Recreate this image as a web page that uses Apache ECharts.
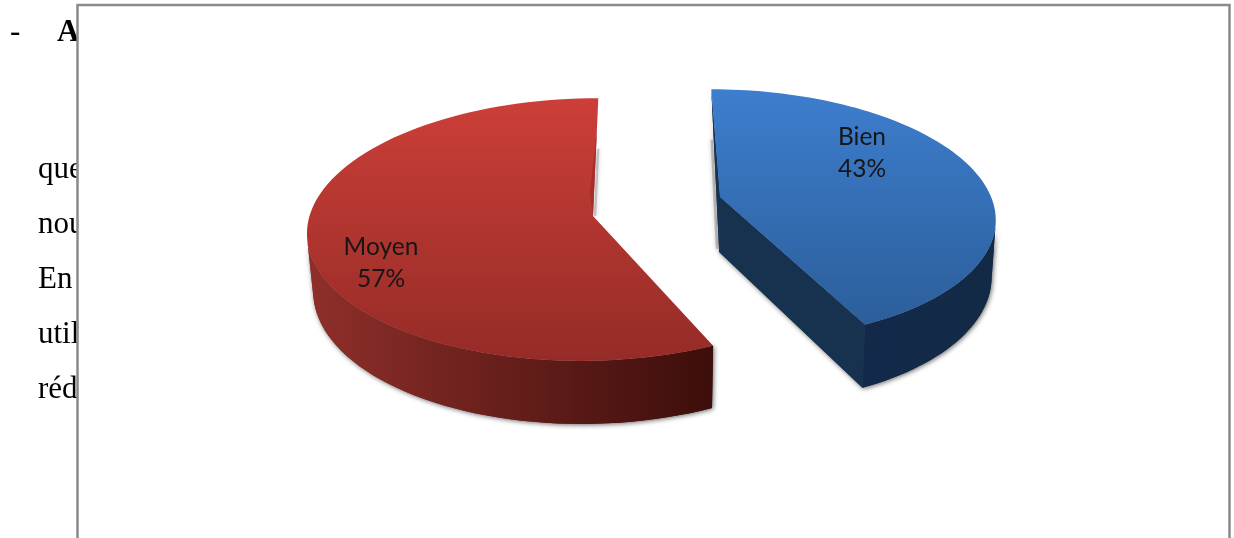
<!DOCTYPE html>
<html><head><meta charset="utf-8">
<style>html,body{margin:0;padding:0;background:#fff;overflow:hidden}#c{width:1234px;height:538px}</style>
<script src="https://cdn.jsdelivr.net/npm/echarts@6/dist/echarts.min.js"></script>
</head><body><div id="c"></div>
<script>
const categories = ['Bien', 'Moyen'];
const values = [43, 57];
const pageLines = ['que', 'nou', 'En', 'util', 'réd'];

// look of each slice (3D projection and colours)
const looks = {
  Bien:  {cx:720, cy:197, a:269.5, b:123, k:0.142, shear:-1.6, depth:55, low:0.988, rimTo:100,
          top:['#3d7ece','#2c5e9a'], rim:['#14294a','#122a46'], wall:'#17324f',
          label:[862,137]},
  Moyen: {cx:593, cy:216, a:280.5, b:130, k:0.103, shear:3, depth:56.5, low:0.982, rimTo:260,
          top:['#cc3f38','#952b27'], rim:['#8f2f2a','#3c0e0b'], wall:'#a52e2a',
          label:[381,247]}
};
const vx = 650;
const sum = values.reduce((p, v) => p + v, 0);
const grad = (x2, y2, c) => new echarts.graphic.LinearGradient(0, 0, x2, y2, [{offset:0,color:c[0]},{offset:1,color:c[1]}]);
const lerp = (p, q, t) => [p[0] + (q[0] - p[0]) * t, p[1] + (q[1] - p[1]) * t];

function proj(L, deg, r, low) {
  const t = deg * Math.PI / 180, s = 1 / (1 + L.k * r * Math.cos(t));
  let x = vx + (L.cx - vx + L.a * r * Math.sin(t)) * s + L.shear * r * (Math.cos(t) - 1);
  let y = L.cy - L.b * r * Math.cos(t) * s;
  if (low) { x = vx + (x - vx) * L.low; y += L.depth * s; }
  return [x, y];
}

function renderItem(params, api) {
  const i = params.dataIndex, L = looks[categories[i]];
  let startV = 0;
  for (let j = 0; j < i; j++) startV += values[j];
  const v = api.value(0);
  const a0 = startV / sum * 360, a1 = (startV + v) / sum * 360;
  const isBlue = a0 === 0;
  const arcTop = [], arcLowVis = [], arcTopVis = [];
  const step = (a1 - a0) / 90;
  const from = isBlue ? L.rimTo : a0, to = isBlue ? a1 : L.rimTo;
  for (let n = 0; n <= 90; n++) {
    const d = a0 + n * step;
    arcTop.push(proj(L, d, 1, false));
    if (d >= from - 1e-6 && d <= to + 1e-6) { arcTopVis.push(proj(L, d, 1, false)); arcLowVis.push(proj(L, d, 1, true)); }
  }
  const cT = proj(L, 0, 0, false), cB = proj(L, 0, 0, true);
  const rim = arcTopVis.concat(arcLowVis.slice().reverse());
  const faces = [{p: rim, fill: grad(1, 0, L.rim)}];
  const startT = arcTop[0], endT = arcTop[arcTop.length - 1];
  if (isBlue) {
    faces.push({p: [startT, cT, cB], fill: L.wall});
    faces.push({p: [cT, endT, proj(L, a1, 1, true), cB], fill: L.wall});
  }
  const shadow = {shadowBlur:5, shadowOffsetX:1, shadowOffsetY:1, shadowColor:'rgba(0,0,0,0.6)'};
  const kids = [];
  // soft grey edge beside the gap
  const edge = isBlue
    ? [lerp(startT, cB, .31), lerp(startT, cB, .98)].map(p => [p[0] - 2, p[1]])
    : [lerp(endT, cT, .43), lerp(endT, cT, 1)].map(p => [p[0] + 2, p[1]]);
  kids.push({type:'polyline', shape:{points:edge}, style:{stroke:'rgba(130,130,130,0.4)', lineWidth:2.5, fill:null,
    shadowBlur:4, shadowColor:'rgba(0,0,0,0.5)'}});
  faces.forEach(f => kids.push({type:'polygon', shape:{points:f.p}, style:Object.assign({fill:f.fill}, shadow)}));
  faces.forEach(f => kids.push({type:'polygon', shape:{points:f.p}, style:{fill:f.fill}}));
  kids.push({type:'polygon', shape:{points:[cT].concat(arcTop)}, style:{fill:grad(0, 1, L.top)}});
  if (!isBlue) {
    // darker sliver along the cut edge of the red slice
    kids.push({type:'polygon', shape:{points:[lerp(endT, cT, .28), cT, [cT[0] - 3, cT[1] - 23]]}, style:{fill:L.wall}});
  }
  const pct = Math.round(v / sum * 100) + '%';
  kids.push({type:'text', style:{x:L.label[0], y:L.label[1], text:categories[i], fill:'#161616',
    font:'24.5px Lato', align:'center', verticalAlign:'middle'}});
  kids.push({type:'text', style:{x:L.label[0], y:L.label[1]+32, text:pct, fill:'#161616',
    font:'24.5px Lato', align:'center', verticalAlign:'middle'}});
  return {type:'group', children:kids};
}

const serifText = (text, x, y, weight) => ({type:'text', z:0, style:{x, y, text, fill:'#000',
  font:(weight||'normal')+' 31px "Liberation Serif"', verticalAlign:'bottom'}});
const baselines = [178, 233, 288, 343, 398];
const pageEls = pageLines.map((t, n) => serifText(t, 38, baselines[n] + 7));
pageEls.push(serifText('-', 10, 48));
pageEls.push(serifText('A', 57, 48, 'bold'));
pageEls.push({type:'rect', z:1, shape:{x:77.5, y:5, width:1152, height:560},
  style:{fill:'#fff', stroke:'#8a8a8a', lineWidth:2.5}});

const chart = echarts.init(document.getElementById('c'), null, {renderer:'canvas'});
chart.setOption({
  animation:false,
  backgroundColor:'#fff',
  graphic:{elements:pageEls},
  series:[{type:'custom', coordinateSystem:'none', z:5, silent:true, renderItem,
    data:values.map((v, i) => ({name:categories[i], value:[v]}))}]
});
</script></body></html>
